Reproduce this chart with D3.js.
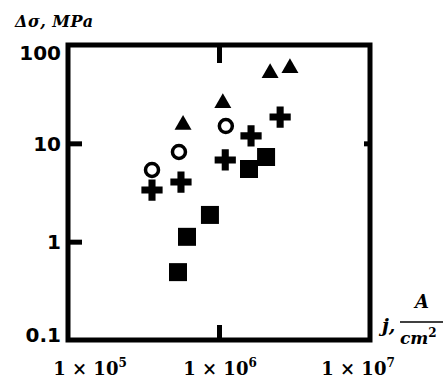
<!DOCTYPE html>
<html><head><meta charset="utf-8">
<script src="https://cdn.jsdelivr.net/npm/d3@7"></script>
<style>
html,body{margin:0;padding:0;background:#fff;}
svg{display:block;}
</style></head>
<body>
<svg id="chart" width="446" height="378"></svg>
<script>
// ---- data ----
const yTickLabels = ["100", "10", "1", "0.1"];
const yTickValues = [100, 10, 1, 0.1];
const xTickValues = [1e5, 1e6, 1e7];
const xTickExps = ["5", "6", "7"];

const triangleJ = [5.78e5, 1.06e6, 2.18e6, 2.95e6];
const triangleS = [15.4, 25.7, 51.9, 58.3];
const circleJ = [3.6e5, 5.43e5, 1.11e6];
const circleS = [5.36, 8.17, 15.0];
const plusJ = [3.6e5, 5.6e5, 1.10e6, 1.63e6, 2.54e6];
const plusS = [3.35, 4.04, 6.78, 11.9, 18.5];
const squareJ = [5.35e5, 6.14e5, 8.71e5, 1.58e6, 2.05e6];
const squareS = [0.49, 1.12, 1.87, 5.48, 7.26];

const zip = (a, b) => a.map((v, i) => ({ x: v, y: b[i] }));

// ---- layout ----
const L = 68, R = 370, T = 45, B = 340;
const svg = d3.select("#chart");
const x = d3.scaleLog().domain([1e5, 1e7]).range([L, R]);
const y = d3.scaleLog().domain([0.1, 100]).range([B, T]);

// frame
svg.append("rect").attr("x", L).attr("y", T).attr("width", R - L).attr("height", B - T)
  .attr("fill", "none").attr("stroke", "#000").attr("stroke-width", 5);

// ticks via axes (inward)
function styleAxis(g) {
  g.select(".domain").remove();
  g.selectAll("line").attr("stroke", "#000").attr("stroke-width", 5);
  g.selectAll("text").remove();
}
svg.append("g").attr("transform", `translate(${L},0)`)
  .call(d3.axisLeft(y).tickValues([10, 1]).tickSize(-14).tickFormat(""))
  .call(styleAxis);
svg.append("g").attr("transform", `translate(0,${B})`)
  .call(d3.axisBottom(x).tickValues([1e6]).tickSize(-15).tickFormat(""))
  .call(styleAxis);
svg.append("g").attr("transform", `translate(0,${T})`)
  .call(d3.axisTop(x).tickValues([1e6]).tickSize(-18).tickFormat(""))
  .call(styleAxis);
svg.append("g").attr("transform", `translate(${R},0)`)
  .call(d3.axisRight(y).tickValues([10]).tickSize(-6).tickFormat(""))
  .call(styleAxis);

// y tick labels
svg.append("g").selectAll("text").data(yTickValues).join("text")
  .attr("x", 61)
  .attr("y", d => Math.min(Math.max(y(d), 53), 335))
  .attr("dy", "0.36em")
  .attr("text-anchor", "end")
  .attr("font-family", "DejaVu Sans")
  .attr("font-weight", "bold")
  .attr("font-size", 20)
  .text((d, i) => yTickLabels[i]);

// x tick labels  1 × 10^n
const xl = svg.append("g").selectAll("text").data(xTickValues).join("text")
  .attr("x", (d, i) => [90, 220, 358][i])
  .attr("y", 375)
  .attr("text-anchor", "middle")
  .attr("font-family", "DejaVu Serif")
  .attr("font-weight", "bold")
  .attr("font-size", 18);
xl.append("tspan").text("1 × 10");
xl.append("tspan").attr("dy", -8).attr("font-size", 12).text((d, i) => xTickExps[i]);

// y axis title
svg.append("text").attr("x", 15).attr("y", 27)
  .attr("font-family", "DejaVu Serif").attr("font-weight", "bold").attr("font-style", "italic")
  .attr("font-size", 16).attr("letter-spacing", 0.5)
  .text("Δσ, MPa");

// x axis title  j, A/cm²
const xt = svg.append("g").attr("font-family", "DejaVu Serif").attr("font-weight", "bold").attr("font-style", "italic");
xt.append("text").attr("x", 382).attr("y", 332).attr("font-size", 19).text("j,");
xt.append("text").attr("x", 422).attr("y", 308).attr("text-anchor", "middle").attr("font-size", 18).text("A");
xt.append("line").attr("x1", 400).attr("x2", 443).attr("y1", 322).attr("y2", 322).attr("stroke", "#000").attr("stroke-width", 1.5);
const cm = xt.append("text").attr("x", 400).attr("y", 344).attr("font-size", 17);
cm.append("tspan").text("cm");
cm.append("tspan").attr("dy", -7).attr("font-size", 12).attr("font-style", "normal").text("2");

// markers
const g = svg.append("g");
g.selectAll(".sq").data(zip(squareJ, squareS)).join("path").attr("class", "sq")
  .attr("d", d3.symbol(d3.symbolSquare, 324))
  .attr("transform", d => `translate(${x(d.x)},${y(d.y)})`).attr("fill", "#000");
g.selectAll(".tri").data(zip(triangleJ, triangleS)).join("path").attr("class", "tri")
  .attr("d", d3.symbol(d3.symbolTriangle, 125))
  .attr("transform", d => `translate(${x(d.x)},${y(d.y)})`).attr("fill", "#000");
g.selectAll(".pl").data(zip(plusJ, plusS)).join("path").attr("class", "pl")
  .attr("d", d3.symbol(d3.symbolCross, 250))
  .attr("transform", d => `translate(${x(d.x)},${y(d.y)})`).attr("fill", "#000");
g.selectAll(".ci").data(zip(circleJ, circleS)).join("circle").attr("class", "ci")
  .attr("cx", d => x(d.x)).attr("cy", d => y(d.y)).attr("r", 6.5)
  .attr("fill", "none").attr("stroke", "#000").attr("stroke-width", 3.5);
</script>
</body></html>
